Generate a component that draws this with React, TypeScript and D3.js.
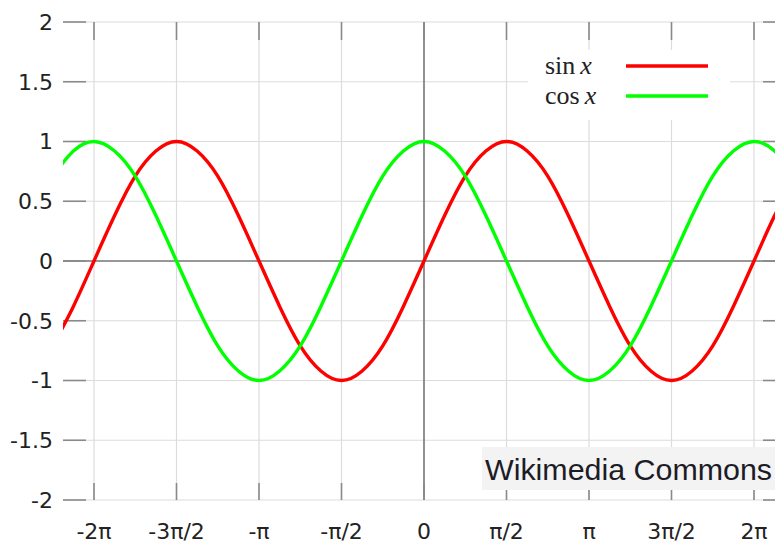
import React, { useEffect, useRef } from 'react'
import * as d3 from 'd3'

// samples every π/8
const sampleSteps = [-18, -17, -16, -15, -14, -13, -12, -11, -10, -9, -8, -7, -6, -5, -4, -3, -2, -1, 0,
  1, 2, 3, 4, 5, 6, 7, 8, 9, 10, 11, 12, 13, 14, 15, 16, 17, 18]
const sinValues = [-0.71, -0.38, 0, 0.38, 0.71, 0.92, 1, 0.92, 0.71, 0.38, 0, -0.38, -0.71, -0.92, -1, -0.92, -0.71, -0.38, 0,
  0.38, 0.71, 0.92, 1, 0.92, 0.71, 0.38, 0, -0.38, -0.71, -0.92, -1, -0.92, -0.71, -0.38, 0, 0.38, 0.71]
const cosValues = [0.71, 0.92, 1, 0.92, 0.71, 0.38, 0, -0.38, -0.71, -0.92, -1, -0.92, -0.71, -0.38, 0, 0.38, 0.71, 0.92, 1,
  0.92, 0.71, 0.38, 0, -0.38, -0.71, -0.92, -1, -0.92, -0.71, -0.38, 0, 0.38, 0.71, 0.92, 1, 0.92, 0.71]

const xTickSteps = [-4, -3, -2, -1, 0, 1, 2, 3, 4] // multiples of π/2
const xTickLabels = ['-2π', '-3π/2', '-π', '-π/2', '0', 'π/2', 'π', '3π/2', '2π']
const yTicks = [-2, -1.5, -1, -0.5, 0, 0.5, 1, 1.5, 2]

const series = [
  { name: 'sin', values: sinValues, color: '#ff0000' },
  { name: 'cos', values: cosValues, color: '#00ff00' },
]

const W = 775
const H = 544

export default function App() {
  const svgRef = useRef<SVGSVGElement>(null)

  useEffect(() => {
    if (!svgRef.current) return
    const svg = d3.select(svgRef.current)
    svg.selectAll('*').remove()

    const left = 63, right = 786, top = 22, bottom = 500
    // -2π at 94px, 2π at 754px
    const x = d3.scaleLinear().domain([-2 * Math.PI, 2 * Math.PI]).range([94, 754])
    const y = d3.scaleLinear().domain([-2, 2]).range([bottom, top])

    svg.append('rect').attr('width', W).attr('height', H).attr('fill', '#fff')

    svg.append('defs').append('clipPath').attr('id', 'plot')
      .append('rect').attr('x', left).attr('y', top)
      .attr('width', right - left).attr('height', bottom - top)

    const grid = svg.append('g').attr('stroke', '#dcdcdc').attr('stroke-width', 1.2)
    grid.selectAll('line.v').data(xTickSteps).join('line')
      .attr('class', 'v')
      .attr('x1', (d) => x(d * Math.PI / 2)).attr('x2', (d) => x(d * Math.PI / 2))
      .attr('y1', top).attr('y2', bottom)
    grid.selectAll('line.h').data(yTicks).join('line')
      .attr('class', 'h')
      .attr('x1', left).attr('x2', right)
      .attr('y1', (d) => y(d)).attr('y2', (d) => y(d))

    // zero axes
    svg.append('line').attr('x1', left).attr('x2', right).attr('y1', y(0)).attr('y2', y(0))
      .attr('stroke', '#7a7a7a').attr('stroke-width', 1.6)
    svg.append('line').attr('x1', x(0)).attr('x2', x(0)).attr('y1', top).attr('y2', bottom)
      .attr('stroke', '#7a7a7a').attr('stroke-width', 1.6)

    const ticks = svg.append('g').attr('stroke', '#8a8a8a').attr('stroke-width', 1.6)
    xTickSteps.forEach((d) => {
      const px = x(d * Math.PI / 2)
      ticks.append('line').attr('x1', px).attr('x2', px).attr('y1', bottom).attr('y2', bottom - 17)
      ticks.append('line').attr('x1', px).attr('x2', px).attr('y1', top).attr('y2', top + 18)
    })
    yTicks.forEach((d) => {
      ticks.append('line').attr('x1', left).attr('x2', left + 23).attr('y1', y(d)).attr('y2', y(d))
      ticks.append('line').attr('x1', right).attr('x2', right - 23).attr('y1', y(d)).attr('y2', y(d))
    })

    svg.append('g')
      .attr('font-family', '"DejaVu Sans", sans-serif').attr('font-size', 22).attr('fill', '#222')
      .attr('text-anchor', 'end')
      .selectAll('text').data(yTicks).join('text')
      .attr('x', 53).attr('y', (d) => y(d)).attr('dy', '0.36em')
      .text((d) => String(d))

    svg.append('g')
      .attr('font-family', '"DejaVu Sans", sans-serif').attr('font-size', 22).attr('fill', '#222')
      .attr('text-anchor', 'middle')
      .selectAll('text').data(xTickSteps).join('text')
      .attr('x', (d) => x(d * Math.PI / 2)).attr('y', 539)
      .text((_, i) => xTickLabels[i])

    const line = d3.line<number>()
      .x((_, i) => x(sampleSteps[i] * Math.PI / 8))
      .y((d) => y(d))
      .curve(d3.curveNatural)

    svg.append('g').attr('clip-path', 'url(#plot)')
      .selectAll('path').data(series).join('path')
      .attr('d', (s) => line(s.values))
      .attr('fill', 'none')
      .attr('stroke', (s) => s.color)
      .attr('stroke-width', 3.4)

    // legend
    svg.append('rect').attr('x', 528).attr('y', 50).attr('width', 202).attr('height', 70).attr('fill', '#fff')
    const lg = svg.append('g').attr('font-family', '"Liberation Serif", serif').attr('font-size', 26).attr('fill', '#222')
    series.forEach((s, i) => {
      const ly = 66 + i * 30
      const t = lg.append('text').attr('x', 545).attr('y', ly + 8)
      t.append('tspan').text(s.name)
      t.append('tspan').attr('dx', 5).attr('font-style', 'italic').text('x')
      lg.append('line').attr('x1', 626).attr('x2', 708).attr('y1', ly).attr('y2', ly)
        .attr('stroke', s.color).attr('stroke-width', 3.4)
    })

    // watermark
    svg.append('rect').attr('x', 482).attr('y', 447).attr('width', 300).attr('height', 43)
      .attr('fill', '#f3f3f3')
    svg.append('text').attr('x', 485).attr('y', 480)
      .attr('font-family', '"Liberation Sans", Arial, sans-serif').attr('font-size', 30)
      .attr('textLength', 287).attr('lengthAdjust', 'spacingAndGlyphs')
      .attr('fill', '#1c1c26')
      .text('Wikimedia Commons')
  }, [])

  return (
    <svg ref={svgRef} width={W} height={H}
      style={{ position: 'fixed', left: 0, top: 0, display: 'block' }} />
  )
}
